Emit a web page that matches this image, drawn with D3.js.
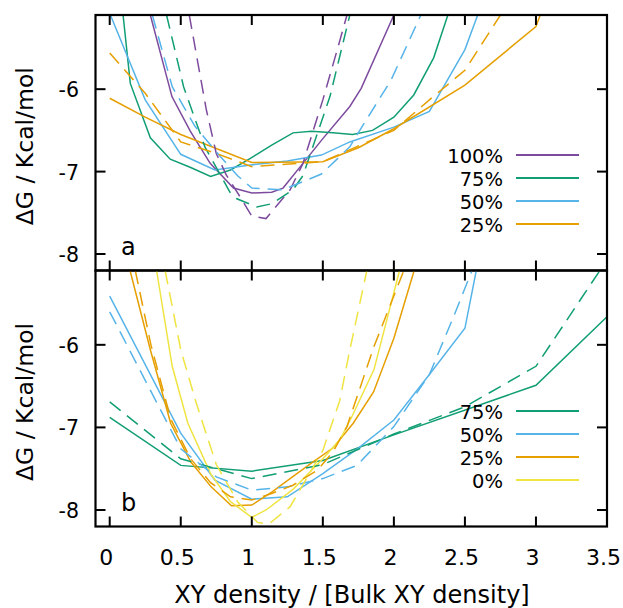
<!DOCTYPE html>
<html>
<head>
<meta charset="utf-8">
<script src="https://cdn.jsdelivr.net/npm/d3@7"></script>
<style>
  html, body { margin: 0; padding: 0; background: #fff; }
  svg text { font-family: "DejaVu Sans", sans-serif; fill: #000; }
</style>
</head>
<body>
<svg id="chart" width="623" height="608"></svg>
<script>
// ---------- data ----------
const xTicks = [0, 0.5, 1, 1.5, 2, 2.5, 3, 3.5];
const xTickLabels = ["0", "0.5", "1", "1.5", "2", "2.5", "3", "3.5"];
const yTicks = [-6, -7, -8];
const yTickLabels = ["-6", "-7", "-8"];
const legendA = ["100%", "75%", "50%", "25%"];
const legendB = ["75%", "50%", "25%", "0%"];
const colors = {"100%": "#7d4b9e", "75%": "#129e74", "50%": "#56b4e9", "25%": "#e69f00", "0%": "#f0e442"};

// Panel a
const a100sX = [0.286, 0.438, 0.567, 0.707, 0.871, 1.0, 1.14, 1.22, 1.36, 1.50, 1.69, 1.77, 2.0];
const a100sY = [-5.10, -6.09, -6.51, -6.90, -7.20, -7.26, -7.25, -7.20, -6.90, -6.60, -6.21, -5.99, -5.10];
const a100dX = [0.56, 0.68, 0.75, 0.82, 0.93, 1.0, 1.1, 1.27, 1.36, 1.50, 1.60, 1.67];
const a100dY = [-5.10, -6.25, -6.78, -7.04, -7.34, -7.54, -7.57, -7.22, -6.90, -6.13, -5.53, -5.10];
const a75sX = [0.094, 0.145, 0.286, 0.426, 0.57, 0.71, 0.85, 0.99, 1.14, 1.29, 1.42, 1.57, 1.71, 1.85, 2.0, 2.14, 2.28, 2.38];
const a75sY = [-5.10, -5.93, -6.59, -6.85, -6.95, -7.06, -6.98, -6.84, -6.68, -6.53, -6.51, -6.53, -6.55, -6.50, -6.34, -6.07, -5.62, -5.10];
const a75dX = [0.40, 0.52, 0.67, 0.85, 0.895, 1.035, 1.14, 1.29, 1.36, 1.55, 1.69];
const a75dY = [-5.10, -5.97, -6.70, -7.26, -7.33, -7.43, -7.39, -7.22, -7.05, -6.09, -5.10];
const a50sX = [0.005, 0.25, 0.5, 0.74, 0.99, 1.25, 1.49, 1.69, 2.0, 2.25, 2.5, 2.59];
const a50sY = [-5.10, -6.13, -6.79, -6.98, -6.92, -6.87, -6.80, -6.64, -6.46, -6.27, -5.52, -5.10];
const a50dX = [0.30, 0.44, 0.6, 0.78, 0.9, 1.0, 1.22, 1.49, 1.69, 1.76, 1.98, 2.19];
const a50dY = [-5.10, -5.97, -6.45, -6.82, -7.05, -7.20, -7.22, -7.03, -6.70, -6.50, -5.89, -5.10];
const a25sX = [0, 0.25, 0.5, 0.75, 1.0, 1.5, 1.75, 2.0, 2.5, 3.0, 3.03];
const a25sY = [-6.11, -6.34, -6.55, -6.72, -6.89, -6.88, -6.71, -6.48, -5.95, -5.24, -5.10];
const a25dX = [0, 0.25, 0.5, 0.75, 1.0, 1.5, 2.0, 2.25, 2.5, 2.75];
const a25dY = [-5.56, -6.05, -6.64, -6.78, -6.94, -6.88, -6.50, -6.13, -5.77, -5.10];

// Panel b
const b75sX = [0, 0.5, 1.0, 1.5, 2.0, 3.0, 3.5];
const b75sY = [-6.88, -7.46, -7.53, -7.40, -7.09, -6.49, -5.66];
const b75dX = [0, 0.5, 1.0, 1.5, 2.0, 2.5, 3.0, 3.45];
const b75dY = [-6.69, -7.38, -7.62, -7.45, -7.08, -6.75, -6.26, -5.10];
const b50sX = [0, 0.5, 0.74, 1.0, 1.25, 1.5, 1.75, 2.0, 2.25, 2.5, 2.58];
const b50sY = [-5.41, -7.07, -7.64, -7.87, -7.84, -7.56, -7.25, -6.91, -6.36, -5.80, -5.10];
const b50dX = [0, 0.5, 0.75, 1.0, 1.25, 1.5, 1.74, 2.0, 2.25, 2.42, 2.55];
const b50dY = [-5.60, -7.26, -7.60, -7.76, -7.72, -7.62, -7.46, -6.99, -6.36, -5.66, -5.10];
const b25sX = [0.143, 0.286, 0.429, 0.571, 0.714, 0.857, 1.0, 1.143, 1.286, 1.429, 1.571, 1.714, 1.857, 2.0, 2.143];
const b25sY = [-5.10, -6.06, -6.95, -7.42, -7.72, -7.95, -7.94, -7.78, -7.60, -7.42, -7.25, -6.95, -6.57, -5.92, -5.10];
const b25dX = [0.18, 0.29, 0.43, 0.57, 0.71, 0.85, 1.0, 1.14, 1.29, 1.46, 1.57, 1.67, 1.86, 2.07];
const b25dY = [-5.10, -6.00, -6.90, -7.38, -7.67, -7.84, -7.88, -7.80, -7.70, -7.52, -7.30, -6.99, -6.02, -5.10];
const b0sX = [0.33, 0.44, 0.55, 0.71, 0.85, 1.0, 1.1, 1.29, 1.5, 1.62, 1.71, 1.86, 2.04];
const b0sY = [-5.10, -6.26, -6.95, -7.56, -7.90, -8.09, -8.00, -7.75, -7.38, -7.15, -6.85, -6.30, -5.10];
const b0dX = [0.39, 0.5, 0.61, 0.75, 0.9, 1.04, 1.12, 1.27, 1.5, 1.62, 1.69, 1.81];
const b0dY = [-5.10, -6.06, -6.71, -7.45, -7.90, -8.15, -8.17, -7.96, -7.28, -6.67, -6.06, -5.10];

const panelA = [
  {key: "100%", x: a100sX, y: a100sY, dash: false},
  {key: "75%", x: a75sX, y: a75sY, dash: false},
  {key: "50%", x: a50sX, y: a50sY, dash: false},
  {key: "25%", x: a25sX, y: a25sY, dash: false},
  {key: "100%", x: a100dX, y: a100dY, dash: true},
  {key: "75%", x: a75dX, y: a75dY, dash: true},
  {key: "50%", x: a50dX, y: a50dY, dash: true},
  {key: "25%", x: a25dX, y: a25dY, dash: true}
];
const panelB = [
  {key: "75%", x: b75sX, y: b75sY, dash: false},
  {key: "50%", x: b50sX, y: b50sY, dash: false},
  {key: "25%", x: b25sX, y: b25sY, dash: false},
  {key: "0%", x: b0sX, y: b0sY, dash: false},
  {key: "75%", x: b75dX, y: b75dY, dash: true},
  {key: "50%", x: b50dX, y: b50dY, dash: true},
  {key: "25%", x: b25dX, y: b25dY, dash: true},
  {key: "0%", x: b0dX, y: b0dY, dash: true}
];

// ---------- layout ----------
const svg = d3.select("#chart");
const left = 95.5, right = 607;
const x = d3.scaleLinear().domain([-0.1, 3.5]).range([left, right]);
const tickLen = 10;

function drawPanel(top, bottom, series, legendKeys, legendY, letter, letterY, id) {
  const y = d3.scaleLinear().domain([-8.2, -5.1]).range([bottom, top]);
  const g = svg.append("g");
  g.append("clipPath").attr("id", id).append("rect")
    .attr("x", left).attr("y", top).attr("width", right - left).attr("height", bottom - top);

  const line = d3.line().x(d => x(d[0])).y(d => y(d[1]));
  const lg = g.append("g").attr("clip-path", `url(#${id})`);
  series.forEach(s => {
    lg.append("path")
      .attr("d", line(s.x.map((v, i) => [v, s.y[i]])))
      .attr("fill", "none")
      .attr("stroke", colors[s.key])
      .attr("stroke-width", 1.5)
      .attr("stroke-dasharray", s.dash ? "14,8" : null);
  });

  // ticks (inward, mirrored)
  const tk = g.append("g").attr("stroke", "#000").attr("stroke-width", 2);
  xTicks.forEach(t => {
    tk.append("line").attr("x1", x(t)).attr("x2", x(t)).attr("y1", bottom).attr("y2", bottom - tickLen);
    tk.append("line").attr("x1", x(t)).attr("x2", x(t)).attr("y1", top).attr("y2", top + tickLen);
  });
  yTicks.forEach(t => {
    tk.append("line").attr("x1", left).attr("x2", left + tickLen).attr("y1", y(t)).attr("y2", y(t));
    tk.append("line").attr("x1", right).attr("x2", right - tickLen).attr("y1", y(t)).attr("y2", y(t));
  });
  // frame
  g.append("rect").attr("x", left).attr("y", top).attr("width", right - left).attr("height", bottom - top)
    .attr("fill", "none").attr("stroke", "#000").attr("stroke-width", 2.2);

  // y tick labels
  yTicks.forEach((t, i) => {
    g.append("text").attr("x", 79).attr("y", y(t) + 8).attr("text-anchor", "end")
      .attr("font-size", 20.5).text(yTickLabels[i]);
  });

  // y axis label
  g.append("text")
    .attr("transform", `translate(33,${(top + bottom) / 2 + 3.5}) rotate(-90)`)
    .attr("text-anchor", "middle").attr("font-size", 23.5)
    .text("ΔG / Kcal/mol");

  // panel letter
  g.append("text").attr("x", 121).attr("y", letterY).attr("font-size", 24).text(letter);

  // legend
  legendKeys.forEach((k, i) => {
    const ly = legendY + i * 23;
    g.append("text").attr("x", 503).attr("y", ly + 7.5).attr("text-anchor", "end")
      .attr("font-size", 19.5).text(k);
    g.append("line").attr("x1", 516).attr("x2", 579).attr("y1", ly).attr("y2", ly)
      .attr("stroke", colors[k]).attr("stroke-width", 2);
  });
}

drawPanel(15, 270.5, panelA, legendA, 155, "a", 255, "clipA");
drawPanel(270.5, 526.5, panelB, legendB, 411, "b", 510.5, "clipB");

// x tick labels
xTicks.forEach((t, i) => {
  svg.append("text").attr("x", x(t) - 3.5).attr("y", 565).attr("text-anchor", "middle")
    .attr("font-size", 22).text(xTickLabels[i]);
});
svg.append("text").attr("x", 352).attr("y", 603).attr("text-anchor", "middle")
  .attr("font-size", 24).text("XY density / [Bulk XY density]");
</script>
</body>
</html>
